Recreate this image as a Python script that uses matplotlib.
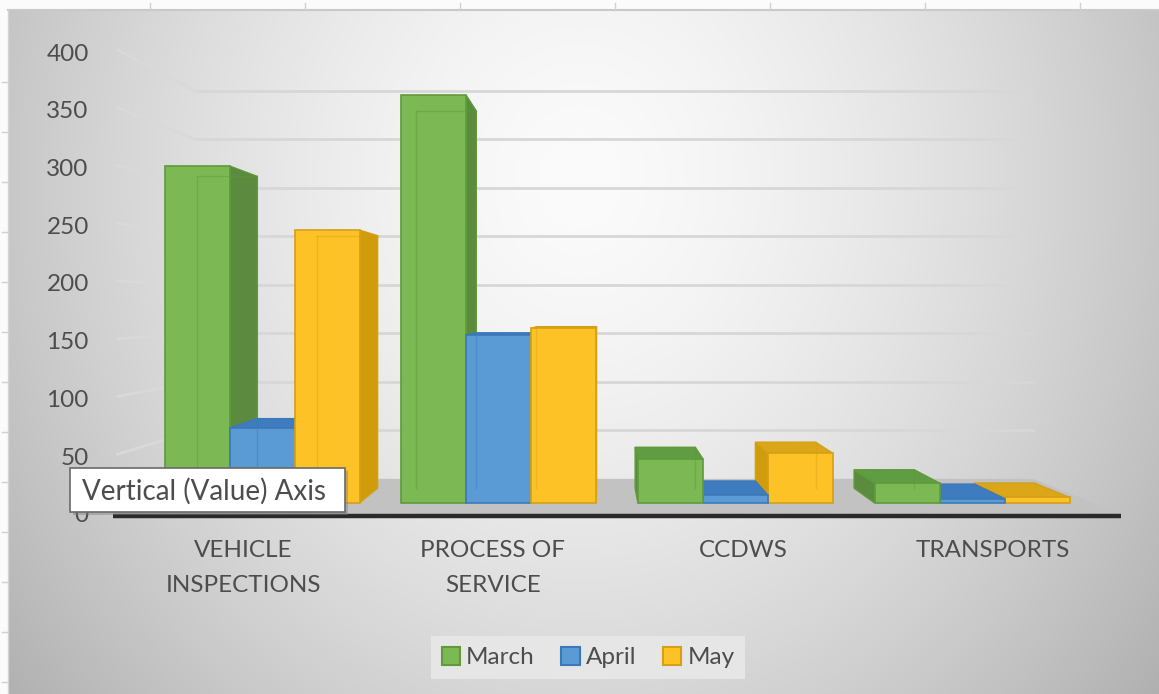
import numpy as np
import matplotlib
matplotlib.use('Agg')
import matplotlib.pyplot as plt
from matplotlib.patches import Polygon, Patch, Rectangle

# ---------------- data ----------------
categories = ['VEHICLE\nINSPECTIONS', 'PROCESS OF\nSERVICE', 'CCDWS', 'TRANSPORTS']
series_names = ['March', 'April', 'May']
march = [305, 369, 40, 18]
april = [68, 152, 7, 4]
may = [247, 158, 45, 5]
y_ticks = [0, 50, 100, 150, 200, 250, 300, 350, 400]

front_colors = ['#7cb854', '#5b9bd5', '#fdc326']
side_colors = ['#5b8b3e', '#3b72aa', '#d09c0c']
top_colors = ['#609c42', '#3f7cbf', '#dba617']
edge_colors = ['#5f9a3b', '#3c79b9', '#d4a017']
TXT = '#4d4d4d'
FONT = 'Lato'
FS = 17.5

W, H = 1159, 694
fig = plt.figure(figsize=(W / 100, H / 100), dpi=100)

# ---------------- background (pixel space decoration) ----------------
bg = fig.add_axes([0, 0, 1, 1])
bg.set_xlim(0, W)
bg.set_ylim(H, 0)
bg.axis('off')
yy, xx = np.mgrid[0:H, 0:W]
r = np.sqrt(((xx - 580) / 620.0) ** 2 + ((yy - 180) / 700.0) ** 2)
g = np.clip((251 - 58 * r ** 1.5) / 255.0, 0, 1)
img = np.dstack([g, g, g])
img[:10, :] = 0.985
img[:, :8] = 0.985
bg.imshow(img, extent=(0, W, H, 0), aspect='auto', zorder=0, interpolation='bilinear')
bg.plot([8, W], [10, 10], color='#c9c9c9', lw=1.5, zorder=1)
bg.plot([8, 8], [10, H], color='#d4d4d4', lw=1.0, zorder=1)
for tx in np.arange(150, W, 155):
    bg.plot([tx, tx], [3, 10], color='#d0d0d0', lw=1, zorder=1)
for ty in np.arange(82, H, 50):
    bg.plot([2, 8], [ty, ty], color='#d0d0d0', lw=1, zorder=1)

# ---------------- main axes: x = category index, y = value ----------------
ax = fig.add_axes([0, 0, 1, 1], facecolor='none')
PX0, PXU = 262.0, 236.7   # calibration of the front plane
PY0, PYU = 503.0, 1.105
ax.set_xlim(-PX0 / PXU, (W - PX0) / PXU)
ax.set_ylim((PY0 - H) / PYU, PY0 / PYU)
ax.axis('off')

# perspective: vanishing point and plane depths
vx, vv = (601 - PX0) / PXU, (PY0 - 305) / PYU
S_BACK, S_FRONT, S_WALLF, S_DEPTH = 0.878, 1.056, 1.045, 0.925


def P(x, v, s):
    return (vx + (x - vx) * s, vv + (v - vv) * s)


x_L = vx + ((195 - PX0) / PXU - vx) / S_BACK
x_R = vx + ((1033 - PX0) / PXU - vx) / S_BACK

# floor
floor = [P(x_L, 0, S_BACK), P(x_R, 0, S_BACK), P(x_R, 0, S_FRONT), P(x_L, 0, S_FRONT)]
ax.add_patch(Polygon(floor, closed=True, fc='#c2c2c2', ec='none', zorder=2))
fl = [P(x_L, 0, S_FRONT), P(x_R, 0, S_FRONT)]
ax.plot([fl[0][0], fl[1][0]], [fl[0][1] - 1.5, fl[1][1] - 1.5], color='#2a2a2a', lw=3.2,
        solid_capstyle='butt', zorder=3)

# wall gridlines
for v in y_ticks[1:]:
    a, b = P(x_L, v, S_BACK), P(x_R, v, S_BACK)
    ax.plot([a[0], b[0]], [a[1], b[1]], color='#d7d7d7', lw=2, zorder=1)
    c = P(x_L, v, S_WALLF)
    ax.plot([c[0], a[0]], [c[1], a[1]], color='#d9d9d9', lw=2, zorder=1)

# value axis labels
for v in y_ticks:
    ax.annotate(str(v), xy=P(x_L, v, S_WALLF), xytext=(-29, -4), textcoords='offset pixels',
                ha='right', va='center', fontsize=FS, color=TXT, family=FONT, zorder=5)

# bars
bw = 65.0 / PXU
series = [march, april, may]
bars = []
for si, vals in enumerate(series):
    for ci, v in enumerate(vals):
        x0 = ci + (si - 1.5) * bw
        x1 = x0 + bw
        bars.append((abs((x0 + x1) / 2 - vx), si, x0, x1, v))
bars.sort(key=lambda t: -t[0])

z = 10
for _, si, x0, x1, v in bars:
    ec = edge_colors[si]
    if x1 <= vx:
        side = [(x1, 0), (x1, v), P(x1, v, S_DEPTH), P(x1, 0, S_DEPTH)]
        inner_x = x0
    elif x0 >= vx:
        side = [(x0, 0), (x0, v), P(x0, v, S_DEPTH), P(x0, 0, S_DEPTH)]
        inner_x = x1
    else:
        side = None
        inner_x = None
    if side is not None:
        ax.add_patch(Polygon(side, closed=True, fc=side_colors[si], ec=ec, lw=1, zorder=z))
    if v < vv:
        top = [(x0, v), (x1, v), P(x1, v, S_DEPTH), P(x0, v, S_DEPTH)]
        ax.add_patch(Polygon(top, closed=True, fc=top_colors[si], ec=ec, lw=1, zorder=z))
    ax.add_patch(Rectangle((x0, 0), x1 - x0, v, fc=front_colors[si], ec=ec, lw=1.2, zorder=z + 1))
    if inner_x is not None:
        a, b = P(inner_x, 0, S_DEPTH), P(inner_x, v, S_DEPTH)
        ax.plot([a[0], b[0]], [a[1], b[1]], color=ec, lw=1, alpha=0.45, zorder=z + 2)
    if v > vv:
        a, b = P(x0, v, S_DEPTH), P(x1, v, S_DEPTH)
        ax.plot([a[0], b[0]], [a[1], b[1]], color=ec, lw=1, alpha=0.45, zorder=z + 2)
    z += 3

# category labels on the floor's front edge
for ci, name in enumerate(categories):
    p = P(ci, 0, S_FRONT)
    ax.annotate(name, xy=p, xytext=(0, -26), textcoords='offset pixels', ha='center', va='top',
                fontsize=FS, color=TXT, family=FONT, linespacing=1.8, zorder=5)

# legend
handles = [Patch(facecolor=front_colors[i], edgecolor=edge_colors[i], lw=1.5, label=series_names[i])
           for i in range(3)]
leg = fig.legend(handles=handles, loc='center', bbox_to_anchor=(588 / W, 1 - 657.5 / H), ncol=3,
                 frameon=True, fancybox=False, framealpha=1, handlelength=0.75, handleheight=0.75,
                 handletextpad=0.25, columnspacing=1.1, borderpad=0.45,
                 prop={'family': FONT, 'size': FS})
leg.get_frame().set_facecolor('#e6e6e6')
leg.get_frame().set_edgecolor('none')
for t in leg.get_texts():
    t.set_color(TXT)

# tooltip overlay
bg2 = fig.add_axes([0, 0, 1, 1], facecolor='none')
bg2.set_xlim(0, W)
bg2.set_ylim(H, 0)
bg2.axis('off')
bg2.add_patch(Rectangle((73, 471), 275, 44, fc='#808080', ec='none', alpha=0.45, zorder=1))
bg2.add_patch(Rectangle((70, 468), 275, 44, fc='white', ec='#6a6a6a', lw=1.2, zorder=2))
bg2.text(82, 491, 'Vertical (Value) Axis', ha='left', va='center', fontsize=20, color=TXT,
         family=FONT, zorder=3)

fig.savefig('out.png', dpi=100)
